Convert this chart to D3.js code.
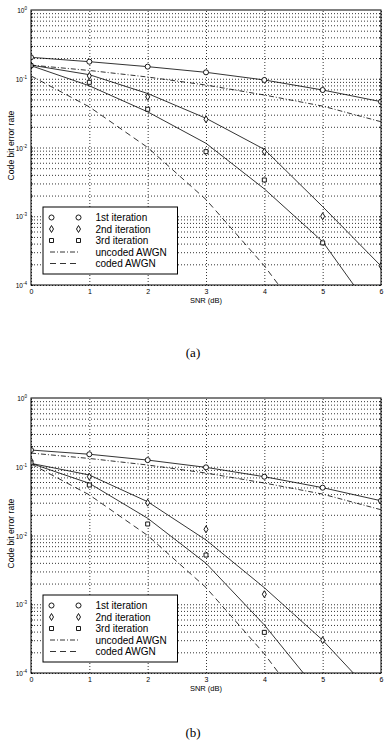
<!DOCTYPE html>
<html>
<head>
<meta charset="utf-8">
<script src="https://cdn.jsdelivr.net/npm/d3@7"></script>
<style>
body { margin: 0; background: #fff; }
svg { display: block; font-family: "Liberation Sans", Arial, sans-serif; }
.grid line { stroke: #000; stroke-width: 0.8; stroke-dasharray: 1, 2; }
.grid path { display: none; }
.ticks path { display: none; }
.ticks line { stroke: #000; stroke-width: 0.8; }
.curve { fill: none; stroke: #000; stroke-width: 0.8; }
.mark { fill: #fff; stroke: #000; stroke-width: 0.9; }
</style>
</head>
<body>
<svg width="387" height="745"></svg>
<script>
// x values (SNR in dB) shared by every series
var snr = [ 0, 1, 2, 3, 4, 5, 6 ];
var xTicks = [ 0, 1, 2, 3, 4, 5, 6 ];
var yDecades = [ 1, 0.1, 0.01, 0.001, 0.0001 ];
var yExp = [ "0", "-1", "-2", "-3", "-4" ];
var legendLabels = [ "1st iteration", "2nd iteration", "3rd iteration", "uncoded AWGN", "coded AWGN" ];

// reference curves (same in both panels)
var uncodedAwgn = [ 0.158, 0.132, 0.106, 0.081, 0.058, 0.040, 0.0237 ];
var codedAwgn = [ 0.11, 0.039, 0.0100, 0.00175, 0.00019, 0.000014 ];

// panel (a)
var aCurve1 = [ 0.205, 0.177, 0.150, 0.124, 0.096, 0.0686, 0.0464 ];
var aCurve2 = [ 0.158, 0.1146, 0.061, 0.0266, 0.0094, 0.00138, 0.000189 ];
var aCurve3 = [ 0.155, 0.079, 0.033, 0.0115, 0.0025, 0.000427, 0.000028 ];
var aIter1 = [ 0.205, 0.177, 0.150, 0.124, 0.096, 0.0686, 0.0464 ];
var aIter2 = [ 0.155, 0.110, 0.0545, 0.0257, 0.0087, 0.0010, 0.00019 ];
var aIter3 = [ 0.155, 0.0887, 0.036, 0.0087, 0.00337, 0.00041 ];

// panel (b)
var bCurve1 = [ 0.175, 0.152, 0.125, 0.098, 0.0716, 0.0496, 0.032 ];
var bCurve2 = [ 0.112, 0.0759, 0.031, 0.0086, 0.00174, 0.00030, 0.000037 ];
var bCurve3 = [ 0.112, 0.0574, 0.0178, 0.00394, 0.00050, 0.000045 ];
var bIter1 = [ 0.175, 0.152, 0.125, 0.098, 0.0716, 0.0496, 0.032 ];
var bIter2 = [ 0.122, 0.0716, 0.030, 0.0123, 0.0014, 0.00030 ];
var bIter3 = [ 0.114, 0.0543, 0.0147, 0.0052, 0.00039 ];

var width = 350, height = 275, left = 31;
var svg = d3.select("svg");
var xScale = d3.scaleLinear().domain([ 0, 6 ]).range([ 0, width ]);
var yScale = d3.scaleLog().domain([ 1e-4, 1 ]).range([ height, 0 ]);

var minor = [];
for (var k = -4; k < 0; k++) {
	for (var m = 1; m < 10; m++) minor.push(m * Math.pow(10, k));
}

var symbols = [ d3.symbolCircle, d3.symbolDiamond, d3.symbolSquare ];
var symbolSizes = [ 20, 14, 16 ];
var dashes = [ null, null, null, "5,2,1,2", "6,4" ];

var line = d3.line().x(function(d, i) {
	return xScale(snr[i]);
}).y(function(d) {
	return yScale(d);
});

function drawPanel(top, id, curves, points, caption, captionY) {
	var g = svg.append("g").attr("transform", "translate(" + left + "," + top + ")");
	g.append("defs").append("clipPath").attr("id", id).append("rect")
		.attr("width", width).attr("height", height);

	// dotted grid
	g.append("g").attr("class", "grid").attr("transform", "translate(0," + height + ")")
		.call(d3.axisBottom(xScale).tickValues(xTicks).tickSize(-height).tickFormat(""));
	g.append("g").attr("class", "grid")
		.call(d3.axisLeft(yScale).tickValues(minor).tickSize(-width).tickFormat(""));

	// inward ticks
	g.append("g").attr("class", "ticks")
		.call(d3.axisLeft(yScale).tickValues(minor).tickSize(-2).tickFormat(""));
	g.append("g").attr("class", "ticks").attr("transform", "translate(" + width + ",0)")
		.call(d3.axisRight(yScale).tickValues(minor).tickSize(-2).tickFormat(""));

	// x labels
	var xa = g.append("g").attr("transform", "translate(0," + height + ")")
		.call(d3.axisBottom(xScale).tickValues(xTicks).tickSize(0).tickPadding(4)
			.tickFormat(d3.format("d")));
	xa.select(".domain").remove();
	xa.selectAll("text").attr("font-size", 7).attr("font-family", "Liberation Sans, Arial, sans-serif");

	// y labels
	var yl = g.selectAll(".ylab").data(yDecades).enter().append("text")
		.attr("x", -4).attr("y", function(d) {
			return yScale(d) + 3;
		}).attr("text-anchor", "end").attr("font-size", 6.5);
	yl.append("tspan").text("10");
	yl.append("tspan").attr("dy", -3).attr("font-size", 4.5).text(function(d, i) {
		return yExp[i];
	});

	// curves
	var plot = g.append("g").attr("clip-path", "url(#" + id + ")");
	plot.selectAll("path.curve").data(curves).enter().append("path").attr("class", "curve")
		.attr("stroke-dasharray", function(d, i) {
			return dashes[i];
		}).attr("d", line);

	// markers
	points.forEach(function(s, j) {
		plot.selectAll(".m" + j).data(s).enter().append("path").attr("class", "mark m" + j)
			.attr("transform", function(d, i) {
				return "translate(" + xScale(snr[i]) + "," + yScale(d) + ")";
			}).attr("d", d3.symbol().type(symbols[j]).size(symbolSizes[j]));
	});

	// box
	g.append("rect").attr("width", width).attr("height", height)
		.attr("fill", "none").attr("stroke", "#000").attr("stroke-width", 1);

	g.append("text").attr("x", width / 2).attr("y", height + 17.5)
		.attr("text-anchor", "middle").attr("font-size", 7.5).text("SNR (dB)");
	g.append("text").attr("transform", "translate(-17," + (height / 2 - 2) + ") rotate(-90)")
		.attr("text-anchor", "middle").attr("font-size", 8.6).text("Code bit error rate");

	// legend
	var lg = g.append("g").attr("transform", "translate(12,197)");
	lg.append("rect").attr("width", 134.5).attr("height", 67)
		.attr("fill", "#fff").attr("stroke", "#000").attr("stroke-width", 1);
	var row = lg.selectAll(".row").data(legendLabels).enter().append("g")
		.attr("transform", function(d, i) {
			return "translate(0," + (10.5 + i * 11.5) + ")";
		});
	row.append("text").attr("x", 52.5).attr("y", 3.5).attr("font-size", 10).text(function(d) {
		return d;
	});
	row.filter(function(d, i) {
		return i < 3;
	}).each(function(d, i) {
		var r = d3.select(this);
		[ 8.5, 35.5 ].forEach(function(px) {
			r.append("path").attr("class", "mark").attr("transform", "translate(" + px + ",0)")
				.attr("d", d3.symbol().type(symbols[i]).size(symbolSizes[i]));
		});
	});
	row.filter(function(d, i) {
		return i >= 3;
	}).append("line").attr("x1", 7).attr("x2", 37).attr("stroke", "#000")
		.attr("stroke-width", 0.8).attr("stroke-dasharray", function(d, i) {
			return dashes[i + 3];
		});

	svg.append("text").attr("x", 193).attr("y", captionY)
		.attr("text-anchor", "middle").attr("font-size", 13)
		.attr("font-family", "Liberation Serif, serif").text(caption);
}

drawPanel(10, "clipA", [ aCurve1, aCurve2, aCurve3, uncodedAwgn, codedAwgn ],
	[ aIter1, aIter2, aIter3 ], "(a)", 357);
drawPanel(398, "clipB", [ bCurve1, bCurve2, bCurve3, uncodedAwgn, codedAwgn ],
	[ bIter1, bIter2, bIter3 ], "(b)", 737);
</script>
</body>
</html>
